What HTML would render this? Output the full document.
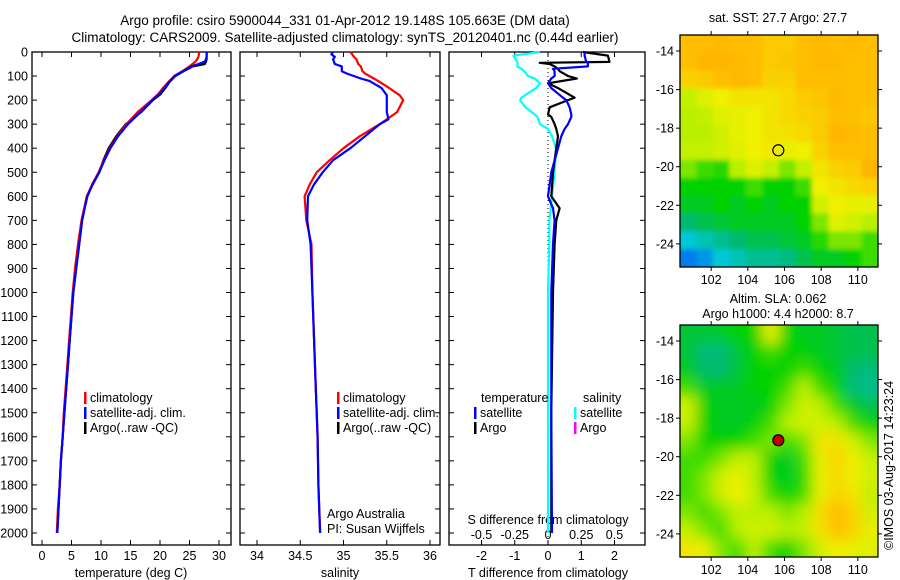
<!DOCTYPE html>
<html><head><meta charset="utf-8"><style>
html,body{margin:0;padding:0;background:#fff;}
svg{display:block;font-family:"Liberation Sans",sans-serif;font-size:12.5px;}
</style></head><body>
<svg id="fig" width="900" height="580" viewBox="0 0 900 580">
<defs>
<filter id="blurS" x="-5%" y="-5%" width="110%" height="110%"><feGaussianBlur stdDeviation="2.5"/></filter>
<filter id="blurL" x="-5%" y="-5%" width="110%" height="110%"><feGaussianBlur stdDeviation="7"/></filter>
<clipPath id="clip1"><rect x="680" y="35" width="198" height="232"/></clipPath>
<clipPath id="clip2"><rect x="680" y="325" width="198" height="232"/></clipPath>
</defs>
<text x="345" y="25" text-anchor="middle" font-size="13.5">Argo profile: csiro 5900044_331 01-Apr-2012 19.148S 105.663E (DM data)</text>
<text x="345" y="42" text-anchor="middle" font-size="13.5">Climatology: CARS2009. Satellite-adjusted climatology: synTS_20120401.nc (0.44d earlier)</text>
<g id="g1"></g>
<g id="g2"></g>
<g id="g3"></g>
<g id="m1"></g>
<g id="m2"></g>
<text x="778" y="22" text-anchor="middle">sat. SST: 27.7 Argo: 27.7</text>
<text x="778" y="303" text-anchor="middle">Altim. SLA: 0.062</text>
<text x="778" y="318" text-anchor="middle">Argo h1000: 4.4 h2000: 8.7</text>
<text transform="translate(893,550) rotate(-90)">©IMOS 03-Aug-2017 14:23:24</text>
</svg>
<script>
const depths=[0,10,20,30,40,50,60,70,80,100,125,150,175,200,250,300,350,400,450,500,550,600,700,800,900,1000,1100,1200,1300,1400,1500,1600,1700,1800,1900,2000];
const tempArgo=[27.9,27.9,27.9,27.9,27.8,27.6,25.5,24.8,24.0,22.6,21.6,20.9,20.1,18.8,16.8,14.2,12.6,11.3,10.4,9.7,8.6,7.6,6.8,6.3,5.8,5.3,5.0,4.7,4.4,4.1,3.8,3.5,3.2,3.0,2.8,2.6];
const tempClim=[26.6,26.6,26.5,26.3,26.0,25.5,25.0,24.4,23.8,22.4,21.4,20.5,19.7,18.6,16.2,14.3,12.8,11.5,10.5,9.6,8.5,7.6,6.7,6.1,5.6,5.2,4.9,4.6,4.3,4.0,3.7,3.5,3.2,3.0,2.7,2.5];
const tempSat=[27.9,27.9,27.9,27.8,27.6,26.5,25.3,24.6,23.9,22.5,21.5,20.8,19.9,18.7,16.7,14.6,12.9,11.6,10.6,9.7,8.6,7.7,6.8,6.3,5.8,5.3,5.0,4.7,4.4,4.1,3.8,3.5,3.2,3.0,2.8,2.6];
const salDepths=[0,10,20,30,50,60,80,90,110,120,150,180,200,250,280,300,350,400,450,500,550,600,700,800,1000,1200,1400,1600,1800,2000];
const salClim=[35.08,35.1,35.12,35.15,35.17,35.2,35.22,35.25,35.35,35.4,35.53,35.65,35.69,35.62,35.5,35.42,35.19,35.0,34.84,34.69,34.61,34.55,34.57,34.63,34.64,34.66,34.68,34.7,34.71,34.73];
const salSat=[34.88,34.86,34.9,34.88,34.9,34.98,34.98,35.04,35.2,35.3,35.44,35.5,35.5,35.5,35.52,35.42,35.25,35.08,34.88,34.76,34.66,34.59,34.58,34.62,34.64,34.66,34.68,34.7,34.71,34.73];
const dDepths=[0,15,41,45,50,60,70,80,100,110,130,150,190,200,230,260,270,300,320,350,400,500,600,650,700,800,1000,1500,2000];
const dTArgo=[1.05,1.8,1.85,-0.25,0.05,0.2,0.3,0.35,0.6,0.87,0.0,0.3,0.8,0.6,0.05,0.0,0.1,0.2,0.25,0.3,0.25,0.15,0.1,0.35,0.25,0.2,0.15,0.1,0.1];
const dTSat=[1.1,1.1,1.15,1.2,1.2,1.2,0.15,0.2,0.2,0.1,0.0,0.1,0.45,0.55,0.65,0.7,0.7,0.6,0.5,0.4,0.3,0.1,0.0,0.15,0.2,0.15,0.1,0.1,0.12];
const dSSat=[-0.06,-0.26,-0.23,-0.23,-0.23,-0.23,-0.2,-0.18,-0.15,-0.1,-0.06,-0.09,-0.2,-0.21,-0.17,-0.1,-0.08,-0.06,0.0,0.03,0.06,0.05,0.03,0.02,0.01,0.01,0.0,0.0,0.0];
const depthTicks=[0,100,200,300,400,500,600,700,800,900,1000,1100,1200,1300,1400,1500,1600,1700,1800,1900,2000];
const tempTicks=[0,5,10,15,20,25,30];
const salTicks=[34,34.5,35,35.5,36];
const tdTicks=[-2,-1,0,1,2];
const sdTicks=[-0.5,-0.25,0,0.25,0.5];
const lonTicks=[102,104,106,108,110];
const latTicks=[-14,-16,-18,-20,-22,-24];
const sstGrid=[
[.85,.85,.87,.85,.85,.82,.82,.85,.87,.85,.87,.85],
[.85,.88,.88,.87,.85,.82,.83,.85,.87,.87,.85,.85],
[.8,.82,.85,.87,.85,.8,.8,.85,.85,.85,.85,.85],
[.62,.68,.72,.75,.75,.75,.78,.82,.83,.87,.85,.85],
[.6,.62,.68,.7,.72,.75,.78,.8,.82,.85,.85,.83],
[.6,.6,.65,.7,.72,.75,.76,.78,.82,.88,.87,.85],
[.62,.62,.65,.68,.72,.74,.7,.72,.8,.85,.85,.85],
[.55,.5,.48,.6,.68,.62,.55,.62,.75,.8,.82,.88],
[.45,.45,.45,.45,.5,.45,.45,.5,.72,.75,.78,.8],
[.42,.42,.45,.42,.45,.42,.45,.45,.65,.72,.7,.7],
[.35,.38,.4,.42,.42,.42,.42,.45,.55,.68,.65,.6],
[.2,.25,.3,.35,.38,.38,.4,.42,.48,.55,.55,.5],
[.05,.1,.2,.25,.3,.3,.32,.38,.42,.42,.45,.5]];
const slaGrid=[
[.4,.4,.42,.45,.45,.7,.45,.42,.42,.4,.38,.38],
[.4,.33,.33,.4,.45,.5,.45,.45,.42,.4,.38,.38],
[.42,.35,.35,.4,.45,.45,.45,.5,.45,.42,.35,.33],
[.5,.42,.42,.42,.45,.45,.5,.6,.5,.45,.33,.3],
[.65,.45,.42,.42,.42,.45,.55,.65,.6,.5,.42,.38],
[.62,.45,.42,.42,.45,.5,.6,.65,.65,.6,.5,.45],
[.55,.45,.45,.45,.5,.55,.5,.55,.75,.75,.65,.55],
[.5,.5,.55,.62,.6,.45,.42,.5,.7,.8,.72,.62],
[.5,.55,.65,.7,.6,.45,.42,.48,.7,.78,.72,.65],
[.5,.55,.65,.72,.62,.5,.45,.5,.7,.8,.75,.62],
[.55,.5,.55,.62,.6,.6,.55,.6,.78,.85,.8,.65],
[.62,.55,.5,.6,.65,.65,.6,.62,.75,.85,.8,.7],
[.75,.7,.55,.5,.6,.5,.45,.55,.65,.72,.7,.68]];
const argoLon=105.663, argoLat=-19.148;

const NS='http://www.w3.org/2000/svg';
function mk(parent,tag,attrs,txt){const e=document.createElementNS(NS,tag);for(const k in attrs)e.setAttribute(k,attrs[k]);if(txt!==undefined)e.textContent=txt;parent.appendChild(e);return e;}
const yD=d=>52+d*0.2405;
function frame(g,x0,x1){
  const r=mk(g,'rect',{x:x0,y:52,width:x1-x0,height:493,fill:'none',stroke:'#000','stroke-width':1.3});
  
  
}
function line(g,xs,ds,xf,color,w,name){
  const pts=xs.map((v,i)=>xf(v).toFixed(1)+','+yD(ds[i]).toFixed(1)).join(' ');
  const p=mk(g,'polyline',{points:pts,fill:'none',stroke:color,'stroke-width':w,'stroke-linejoin':'round'});
  
  
}
function xTicks(g,ticks,xf,ty,fmt){
  ticks.forEach(t=>{const x=xf(t);
    mk(g,'line',{x1:x,x2:x,y1:545,y2:540,stroke:'#000'});
    mk(g,'line',{x1:x,x2:x,y1:52,y2:57,stroke:'#000'});
    const l=mk(g,'text',{x:x,y:ty,'text-anchor':'middle'},fmt?fmt(t):String(t));
    
    
  });
}
function yTicks(g,x0,x1){depthTicks.forEach(d=>{const y=yD(d);mk(g,'line',{x1:x0,x2:x0+5,y1:y,y2:y,stroke:'#000'});mk(g,'line',{x1:x1,x2:x1-5,y1:y,y2:y,stroke:'#000'});});}
function legend(g,x,y,color,label){
  mk(g,'rect',{x:x,y:y-10,width:2.5,height:12,fill:color});
  const t=mk(g,'text',{x:x+6,y:y},label);
  
  
}
// Panel 1
const g1=document.getElementById('g1');
const xT=t=>42+t*5.9;
frame(g1,32,231);yTicks(g1,32,231);
depthTicks.forEach(d=>{const t=mk(g1,'text',{x:28,y:yD(d)+4.5,'text-anchor':'end'},String(d));
  
  });
xTicks(g1,tempTicks,xT,560);
mk(g1,'text',{x:131,y:577,'text-anchor':'middle'},'temperature (deg C)');
line(g1,tempArgo,depths,xT,'#000',2.2,'argo-temperature-line');
line(g1,tempClim,depths,xT,'#f00',2.2,'climatology-temperature-line');
line(g1,tempSat,depths,xT,'#00f',2.2,'satellite-temperature-line');
legend(g1,84,402,'#f00','climatology');legend(g1,84,417,'#00f','satellite-adj. clim.');legend(g1,84,432,'#000','Argo(..raw -QC)');
// Panel 2
const g2=document.getElementById('g2');
const xS=s=>257+(s-34)*86.5;
frame(g2,240,440);yTicks(g2,240,440);
xTicks(g2,salTicks,xS,560);
mk(g2,'text',{x:340,y:577,'text-anchor':'middle'},'salinity');
line(g2,salClim,salDepths,xS,'#f00',2.2,'climatology-salinity-line');
line(g2,salSat,salDepths,xS,'#00f',2.2,'satellite-salinity-line');
legend(g2,337,402,'#f00','climatology');legend(g2,337,417,'#00f','satellite-adj. clim.');legend(g2,337,432,'#000','Argo(..raw -QC)');
mk(g2,'text',{x:327,y:518},'Argo Australia');
mk(g2,'text',{x:327,y:533},'PI: Susan Wijffels');
// Panel 3
const g3=document.getElementById('g3');
const xTd=v=>548+v*33.25, xSd=v=>548+v*133;
frame(g3,449,645);yTicks(g3,449,645);
mk(g3,'line',{x1:548,x2:548,y1:52,y2:545,stroke:'#000','stroke-dasharray':'1,3'});
xTicks(g3,tdTicks,xTd,560);
sdTicks.forEach(t=>{const l=mk(g3,'text',{x:xSd(t),y:539,'text-anchor':'middle'},String(t));
  
  });
mk(g3,'text',{x:548,y:524,'text-anchor':'middle'},'S difference from climatology');
mk(g3,'text',{x:548,y:577,'text-anchor':'middle'},'T difference from climatology');
line(g3,dSSat,dDepths,xSd,'#0ff',2.2,'salinity-sat-diff-line');
line(g3,dTArgo,dDepths,xTd,'#000',2.2,'temperature-argo-diff-line');
line(g3,dTSat,dDepths,xTd,'#00f',2.2,'temperature-sat-diff-line');
mk(g3,'text',{x:481,y:402},'temperature');mk(g3,'text',{x:583,y:402},'salinity');
legend(g3,474,417,'#00f','satellite');legend(g3,474,432,'#000','Argo');
legend(g3,574,417,'#0ff','satellite');legend(g3,574,432,'#f0f','Argo');
// Maps
const cstops=[[0,[0,100,240]],[0.2,[0,200,215]],[0.35,[0,185,110]],[0.45,[0,210,0]],[0.6,[185,240,0]],[0.72,[240,240,0]],[0.85,[255,190,0]],[1,[250,150,0]]];
function cmap(v){for(let i=1;i<cstops.length;i++){if(v<=cstops[i][0]){const a=cstops[i-1],b=cstops[i];const f=(v-a[0])/(b[0]-a[0]);return 'rgb('+a[1].map((c,k)=>Math.round(c+(b[1][k]-c)*f)).join(',')+')';}}return 'rgb(250,150,0)';}
function map(id,grid,top,filled,clip,blur){
  const g=document.getElementById(id);const x0=680,x1=878,bot=top+232;
  const lonMin=100.3,lonMax=111.1,latTop=-13.17,latBot=-25.2;
  const lx=l=>x0+(l-lonMin)*(x1-x0)/(lonMax-lonMin);
  const ly=l=>top+(latTop-l)*(bot-top)/(latTop-latBot);
  const rows=grid.length,cols=grid[0].length,cw=(x1-x0)/cols,ch=(bot-top)/rows;
  const cg=mk(g,'g',{'clip-path':'url(#'+clip+')'});
  const ig=mk(cg,'g',{filter:'url(#'+blur+')'});
  mk(ig,'rect',{x:x0-20,y:top-20,width:x1-x0+40,height:bot-top+40,fill:cmap(grid[0][0])});
  grid.forEach((row,r)=>row.forEach((v,c)=>{
    const ex0=c===0?-20:0, ey0=r===0?-20:0, ex1=c===cols-1?20:0, ey1=r===rows-1?20:0;
    const cell=mk(ig,'rect',{x:(x0+c*cw+ex0).toFixed(2),y:(top+r*ch+ey0).toFixed(2),width:(cw+0.6-ex0+ex1).toFixed(2),height:(ch+0.6-ey0+ey1).toFixed(2),fill:cmap(v)});
    
    
  }));
  mk(g,'rect',{x:x0,y:top,width:x1-x0,height:bot-top,fill:'none',stroke:'#000','stroke-width':1.3});
  lonTicks.forEach(l=>{const x=lx(l);mk(g,'line',{x1:x,x2:x,y1:bot,y2:bot+4,stroke:'#000'});mk(g,'line',{x1:x,x2:x,y1:top,y2:top-4,stroke:'#000'});
    const t=mk(g,'text',{x:x,y:bot+17,'text-anchor':'middle'},String(l));
    
    });
  latTicks.forEach(l=>{const y=ly(l);mk(g,'line',{x1:x0,x2:x0-4,y1:y,y2:y,stroke:'#000'});mk(g,'line',{x1:x1,x2:x1+4,y1:y,y2:y,stroke:'#000'});
    const t=mk(g,'text',{x:674,y:y+4.5,'text-anchor':'end'},String(l));
    
    });
  const m=mk(g,'circle',{cx:lx(argoLon),cy:ly(argoLat),r:5.5,fill:filled?'#b00':'none',stroke:'#000','stroke-width':1.2});
  
  
}
map('m1',sstGrid,35,false,'clip1','blurS');
map('m2',slaGrid,325,true,'clip2','blurL');
</script>
</body></html>
